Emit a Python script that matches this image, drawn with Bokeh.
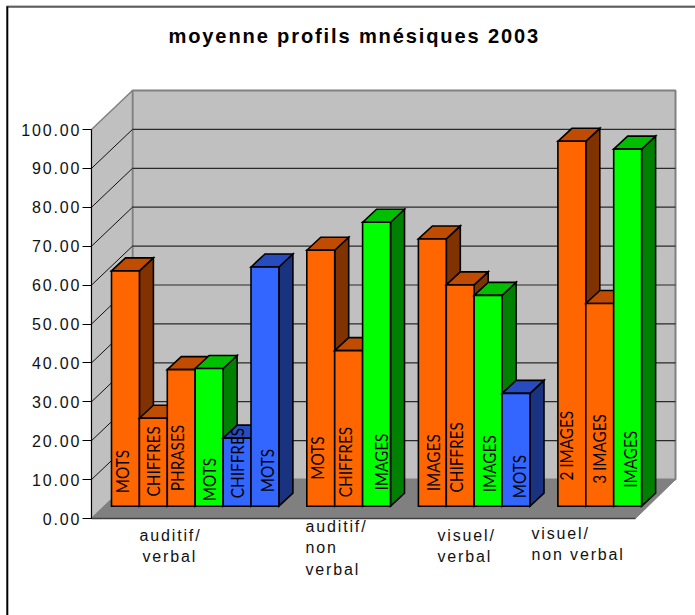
from math import pi
from bokeh.plotting import figure
from bokeh.io import curdoc
from bokeh.models import Range1d, FixedTicker, NumeralTickFormatter, CustomJS
from bokeh.core.properties import value
from bokeh.embed import file_html
from bokeh.resources import INLINE

# ---- data -------------------------------------------------------------
title_text = "moyenne profils mnésiques 2003"
bar_slots = [0, 1, 2, 3, 4, 5, 7, 8, 9, 11, 12, 13, 14, 16, 17, 18]
bar_values = [60.5, 22.6, 35.1, 35.4, 17.5, 61.5, 65.8, 40.0, 73.0, 68.7, 56.9, 54.2, 29.0, 93.8, 52.1, 91.8]
bar_labels = ["MOTS", "CHIFFRES", "PHRASES", "MOTS", "CHIFFRES", "MOTS", "MOTS", "CHIFFRES", "IMAGES",
              "IMAGES", "CHIFFRES", "IMAGES", "MOTS", "2 IMAGES", "3 IMAGES", "IMAGES"]
bar_kinds = ["o", "o", "o", "g", "b", "b", "o", "o", "g", "o", "o", "g", "b", "o", "o", "g"]
y_ticks = [0, 10, 20, 30, 40, 50, 60, 70, 80, 90, 100]
category_lines = ["auditif/", "verbal", "auditif/", "non", "verbal", "visuel/", "verbal", "visuel/", "non verbal"]

# ---- layout (page pixels) ------------------------------------------------
W, H = 695, 615
SLOT = 27.9; X_BAR0 = 111.0
UNIT = 3.89; Y_ZERO = 518.0
def X(px): return (px - X_BAR0) / SLOT
def Y(py): return (Y_ZERO - py) / UNIT

FRONT_L, FRONT_R = X(91), X(635)
DX, DY = 41 / SLOT, 39 / UNIT          # wall depth
BDX, BDY = 14 / SLOT, 13 / UNIT        # bar depth
LIFT = (518 - 505.7) / UNIT            # bar base above front floor edge

label_px_x = [121.7, 153, 177, 208.8, 237, 267, 317, 344.5, 381, 433, 456, 489, 519, 566, 599, 630]
label_px_bottom = [492.7, 496, 490.7, 500.7, 497.7, 491.7, 479.3, 496.7, 490, 490.7, 492, 491.7, 497.7, 480, 483.3, 487.3]
cat_px_x = [139, 142, 305, 305, 305, 437, 437, 531, 531]
cat_px_base = [535.2, 555.5, 525.5, 546.5, 568.5, 535.2, 555.5, 532.5, 553.5]

COL = {"o": ("#FF6600", "#BF4C00", "#803300"),
       "g": ("#00FF00", "#00BF00", "#008000"),
       "b": ("#3366FF", "#264CBF", "#1A3380")}

p = figure(width=W, height=H, output_backend="svg", toolbar_location=None,
           x_range=Range1d(X(0), X(W)), y_range=Range1d(Y(H), Y(0)),
           min_border=0, min_border_left=0, min_border_right=0, min_border_top=0, min_border_bottom=0,
           outline_line_color=None, background_fill_color="white", border_fill_color="white")
p.styles = {"position": "absolute", "left": "0", "top": "0", "letter-spacing": "1.85px"}
p.xaxis.visible = False
p.grid.visible = False

# walls and floor
wall_gray, wall_edge = "#C0C0C0", "#808080"
p.patch([FRONT_L + DX, X(675), X(675), FRONT_L + DX], [DY, DY, 100 + DY, 100 + DY],
        fill_color=wall_gray, line_color=wall_edge, line_width=2)
p.patch([FRONT_L, FRONT_L + DX, FRONT_L + DX, FRONT_L], [0, DY, 100 + DY, 100],
        fill_color=wall_gray, line_color=wall_edge, line_width=1.5)
p.patch([FRONT_L, FRONT_R, X(675), FRONT_L + DX], [0, 0, DY, DY],
        fill_color="#808080", line_color="#808080", line_width=1)
p.segment([FRONT_L], [0], [FRONT_R], [0], line_color="#404040", line_width=1.5)

# gridlines
gt = y_ticks[1:-1]
p.segment([FRONT_L + DX] * len(gt), [t + DY for t in gt], [X(675)] * len(gt), [t + DY for t in gt],
          line_color="#2a2a2a", line_width=1.2)
p.segment([FRONT_L] * len(gt), gt, [FRONT_L + DX] * len(gt), [t + DY for t in gt],
          line_color="#111111", line_width=1)

# 3-D bars, painted left to right
xs, ys, fills = [], [], []
for s, v, k in zip(bar_slots, bar_values, bar_kinds):
    x0, x1, b, t = s, s + 1, LIFT, LIFT + v
    front, top, side = COL[k]
    xs += [[x1, x1 + BDX, x1 + BDX, x1], [x0, x0 + BDX, x1 + BDX, x1], [x0, x1, x1, x0]]
    ys += [[b, b + BDY, t + BDY, t], [t, t + BDY, t + BDY, t], [b, b, t, t]]
    fills += [side, top, front]
p.patches(xs, ys, fill_color=fills, line_color="black", line_width=1.6, line_join="miter")

# labels in the bars
p.text([X(a) for a in label_px_x], [Y(b) for b in label_px_bottom], text=bar_labels, angle=pi / 2,
       text_align="left", text_baseline="middle", text_font=value("Lato"),
       text_font_size="17px", text_color="black")

# category labels
p.text([X(a) for a in cat_px_x], [Y(b) for b in cat_px_base], text=category_lines,
       text_align="left", text_baseline="alphabetic", text_font=value("Liberation Sans"),
       text_font_size="16px", text_color="#111111")

# title
p.text([X(168)], [Y(35.5)], text=[title_text], text_align="left", text_baseline="alphabetic",
       text_font=value("Liberation Sans"), text_font_style="bold", text_font_size="20.1px", text_color="black")

# frame of the chart area
p.segment([X(6)], [Y(5.5)], [X(W)], [Y(5.5)], line_color="#808080", line_width=1.2)
p.segment([X(6)], [Y(6.5)], [X(W)], [Y(6.5)], line_color="black", line_width=1.2)
p.segment([X(6.8)], [Y(6)], [X(6.8)], [Y(H)], line_color="black", line_width=2)

# y axis
ax = p.yaxis[0]
ax.fixed_location = FRONT_L
ax.bounds = (0, 100)
ax.ticker = FixedTicker(ticks=y_ticks)
ax.formatter = NumeralTickFormatter(format="0.00")
ax.major_tick_out = 9
ax.major_tick_in = 0
ax.minor_tick_out = 0
ax.minor_tick_in = 0
ax.major_tick_line_color = "black"
ax.axis_line_color = "black"
ax.major_label_standoff = 3
ax.major_label_text_font = "Liberation Sans"
ax.major_label_text_font_size = "16px"
ax.major_label_text_color = "#111111"

# the SVG texts inherit the spaced lettering; the labels inside the bars are narrow
# and unspaced, and the tick labels stay flush right despite it
fix = CustomJS(code="""
function walk(root, out) {
  root.querySelectorAll('*').forEach(e => {
    if (e.tagName === 'text') out.push(e);
    if (e.shadowRoot) walk(e.shadowRoot, out);
  });
  return out;
}
function run() {
  walk(document, []).forEach(t => {
    if (t.dataset.done) return;
    const s = t.textContent;
    if (/MOTS|CHIFFRES|PHRASES|IMAGES/.test(s)) {
      t.style.letterSpacing = '0px';
      t.setAttribute('textLength', t.getComputedTextLength() * 0.9);
      t.setAttribute('lengthAdjust', 'spacingAndGlyphs');
    } else if (/^\\d+\\.00$/.test(s)) {
      t.setAttribute('x', parseFloat(t.getAttribute('x') || 0) - (s.length - 1) * 1.85);
    } else return;
    t.dataset.done = '1';
  });
}
run(); setTimeout(run, 50); setTimeout(run, 300);
""")
doc = curdoc()
doc.add_root(p)
doc.js_on_event("document_ready", fix)

open("out.html", "w").write(file_html(p, INLINE))
